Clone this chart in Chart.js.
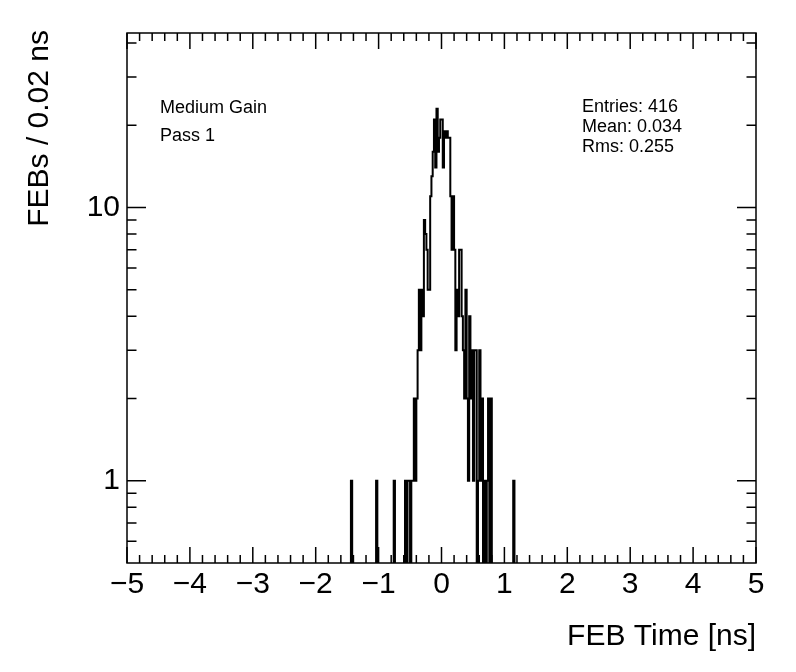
<!DOCTYPE html>
<html>
<head>
<meta charset="utf-8">
<script src="https://cdn.jsdelivr.net/npm/chart.js@4/dist/chart.umd.min.js"></script>
<style>
  body { margin: 0; background: #fff; }
  #wrap { width: 796px; height: 672px; }
</style>
</head>
<body>
<div id="wrap"><canvas id="febTimeChart" width="796" height="672"></canvas></div>
<script>
// histogram: 500 bins of 0.02 ns from -5 to 5, only the filled bins listed
const xMin = -5;
const xMax = 5;
const binWidth = 0.02;
const filledBins = [178, 198, 212, 221, 223, 224, 226, 227, 228, 229, 230,
    231, 232, 233, 234, 235, 236, 237, 238, 239, 240,
    241, 242, 243, 244, 245, 246, 247, 248, 249, 250,
    251, 252, 253, 254, 255, 256, 257, 258, 259, 260,
    261, 262, 263, 264, 265, 266, 267, 268, 269, 270,
    271, 272, 273, 274, 275, 276, 277, 279, 280,
    281, 282, 284, 286, 287, 289, 307];
const binCounts = [1, 1, 1, 1, 1, 1, 1, 1, 2, 1, 2,
    3, 5, 3, 5, 4, 9, 8, 7, 5, 5,
    11, 13, 16, 21, 14, 23, 16, 18, 21, 21,
    14, 19, 18, 19, 18, 18, 11, 7, 11, 7,
    3, 5, 4, 7, 7, 4, 3, 2, 5, 2,
    1, 4, 2, 3, 1, 3, 3, 1, 3,
    1, 2, 1, 1, 2, 2, 1];

const yMajorTicks = [1, 10];
const yMinorTicks = [0.6, 0.7, 0.8, 0.9, 2, 3, 4, 5, 6, 7, 8, 9, 20, 30, 40];
const infoLines = ['Medium Gain', 'Pass 1'];
const statLines = ['Entries: 416', 'Mean: 0.034', 'Rms: 0.255'];

const FONT = "'Liberation Sans', Arial, Helvetica, sans-serif";

// build the outline points (zero bins drop below the axis and get clipped)
const nBins = Math.round((xMax - xMin) / binWidth);
const counts = new Array(nBins).fill(0);
filledBins.forEach((b, i) => counts[b] = binCounts[i]);
const histPoints = counts.map((c, i) => ({ x: xMin + i * binWidth, y: c > 0 ? c : 0.1 }));
histPoints.push({ x: xMax, y: histPoints[nBins - 1].y });

const rootFrame = {
    id: 'rootFrame',
    afterDatasetsDraw(chart) {
        const { ctx, chartArea: a, scales: { x, y } } = chart;
        ctx.save();
        ctx.strokeStyle = '#000';
        ctx.lineWidth = 1.5;
        ctx.strokeRect(a.left, a.top, a.right - a.left, a.bottom - a.top);

        ctx.beginPath();
        for (let k = 0; k <= 50; k++) {
            const px = x.getPixelForValue(xMin + k * 0.2);
            const len = k % 5 === 0 ? 16 : 8;
            ctx.moveTo(px, a.bottom); ctx.lineTo(px, a.bottom - len);
            ctx.moveTo(px, a.top); ctx.lineTo(px, a.top + len);
        }
        const yTick = (v, len) => {
            const py = y.getPixelForValue(v);
            ctx.moveTo(a.left, py); ctx.lineTo(a.left + len, py);
            ctx.moveTo(a.right, py); ctx.lineTo(a.right - len, py);
        };
        yMajorTicks.forEach(v => yTick(v, 19));
        yMinorTicks.forEach(v => yTick(v, 9.5));
        ctx.stroke();

        ctx.fillStyle = '#000';
        ctx.font = '18px ' + FONT;
        ctx.textAlign = 'left';
        ctx.textBaseline = 'middle';
        infoLines.forEach((t, i) => ctx.fillText(t, 160, 108 + i * 28));
        statLines.forEach((t, i) => ctx.fillText(t, 582, 107 + i * 20));

        // axis titles
        ctx.font = '30px ' + FONT;
        ctx.textAlign = 'right';
        ctx.fillText('FEB Time [ns]', a.right, 637);
        ctx.translate(40, 30);
        ctx.rotate(-Math.PI / 2);
        ctx.fillText('FEBs / 0.02 ns', 0, 0);
        ctx.restore();
    }
};

new Chart(document.getElementById('febTimeChart'), {
    type: 'line',
    data: {
        datasets: [{
            data: histPoints,
            stepped: true,
            borderColor: '#000',
            borderWidth: 2,
            pointRadius: 0,
            fill: false
        }]
    },
    options: {
        responsive: false,
        animation: false,
        devicePixelRatio: 1,
        layout: { padding: { top: 33, right: 40, left: 0, bottom: 0 } },
        plugins: { legend: { display: false }, tooltip: { enabled: false } },
        scales: {
            x: {
                type: 'linear', min: xMin, max: xMax,
                afterFit: s => { s.height = 109; },
                grid: { display: false, drawTicks: false },
                border: { display: false },
                ticks: {
                    stepSize: 1, autoSkip: false, maxRotation: 0, padding: 4,
                    color: '#000', font: { family: FONT, size: 30 },
                    callback: v => v < 0 ? '\u2212' + Math.abs(v) : String(v)
                }
            },
            y: {
                type: 'logarithmic', min: 0.5, max: 43.5,
                afterFit: s => { s.width = 127; },
                afterBuildTicks: s => { s.ticks = yMajorTicks.map(v => ({ value: v })); },
                grid: { display: false, drawTicks: false },
                border: { display: false },
                ticks: {
                    padding: 7, color: '#000', font: { family: FONT, size: 30 },
                    callback: v => String(v)
                }
            }
        }
    },
    plugins: [rootFrame]
});
</script>
</body>
</html>
